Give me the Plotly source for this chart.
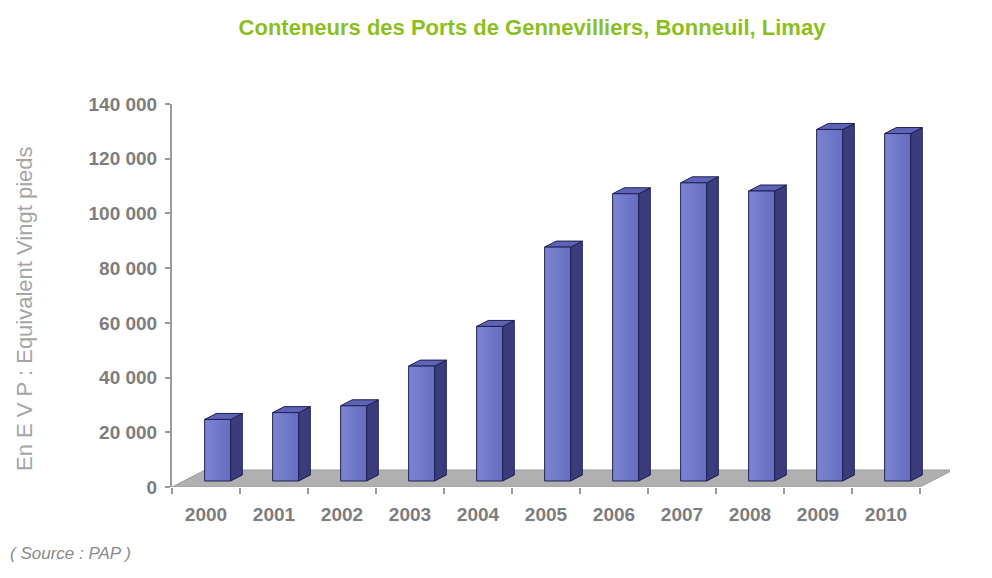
import plotly.graph_objects as go

years = ["2000", "2001", "2002", "2003", "2004", "2005", "2006", "2007", "2008", "2009", "2010"]
values = [22500, 25000, 27500, 42000, 56500, 85500, 105000, 109000, 106000, 128500, 127000]
ytick_vals = [0, 20000, 40000, 60000, 80000, 100000, 120000, 140000]
ytick_text = ["0", "20 000", "40 000", "60 000", "80 000", "100 000", "120 000", "140 000"]

# geometry (in axis units)
PX_X = 68.0            # pixels per category
Y_MAX = 140000
PX_Y = 383.0 / Y_MAX   # pixels per value unit
DEPTH_DX = 33 / PX_X
DEPTH_DY = 17 / PX_Y
BAR_W = 26 / PX_X
F0 = 6 / 17            # front of bars as fraction of floor depth
F1 = 12 / 17           # back of bars

SIDE = "#3b3c7c"
TOP = "#5d64b6"
EDGE = "#1e1f52"
FLOOR = "#b0b0b0"
AXIS = "#9a9a9a"
TXT = "#7d7d7d"

fig = go.Figure()
n = len(years)
# floor
fx = [-0.5, n - 0.5, n - 0.5 + DEPTH_DX, -0.5 + DEPTH_DX, -0.5]
fy = [0, 0, DEPTH_DY, DEPTH_DY, 0]
fig.add_trace(go.Scatter(x=fx, y=fy, fill="toself", fillcolor=FLOOR, mode="lines",
                         line=dict(color="#9c9c9c", width=1), hoverinfo="skip", showlegend=False))

for i, v in enumerate(values):
    ox = F0 * DEPTH_DX
    oy = F0 * DEPTH_DY
    ddx = (F1 - F0) * DEPTH_DX
    ddy = (F1 - F0) * DEPTH_DY
    xl = i - BAR_W / 2 + ox
    xr = i + BAR_W / 2 + ox
    yb = oy
    yt = oy + v
    # side face
    fig.add_trace(go.Scatter(x=[xr, xr + ddx, xr + ddx, xr, xr], y=[yb, yb + ddy, yt + ddy, yt, yb],
                             fill="toself", fillcolor=SIDE, mode="lines",
                             line=dict(color=EDGE, width=1), hoverinfo="skip", showlegend=False))
    # top face
    fig.add_trace(go.Scatter(x=[xl, xr, xr + ddx, xl + ddx, xl], y=[yt, yt, yt + ddy, yt + ddy, yt],
                             fill="toself", fillcolor=TOP, mode="lines",
                             line=dict(color=EDGE, width=1), hoverinfo="skip", showlegend=False))
    # front face
    fig.add_trace(go.Scatter(x=[xl, xr, xr, xl, xl], y=[yb, yb, yt, yt, yb],
                             fill="toself", mode="lines",
                             fillgradient=dict(type="horizontal",
                                               colorscale=[[0, "#7c85d3"], [1, "#656dbf"]]),
                             line=dict(color=EDGE, width=1), hoverinfo="skip", showlegend=False))

L, R, T, B = 172, 42, 104, 91
x_right = -0.5 + (992 - L - R) / PX_X

fig.update_layout(
    width=992, height=578,
    margin=dict(l=L, r=R, t=T, b=B),
    paper_bgcolor="white", plot_bgcolor="white",
    showlegend=False,
    title=dict(text="<b>Conteneurs des Ports de Gennevilliers, Bonneuil, Limay</b>",
               xref="container", yref="container", x=532 / 992, y=1 - 27 / 578,
               xanchor="center", yanchor="middle",
               font=dict(family="Liberation Sans Narrow, Arial Narrow, Liberation Sans", size=22,
                         color="#8cbf1e")),
    xaxis=dict(range=[-0.5, x_right], tickmode="array", tickvals=list(range(n)), ticktext=years,
               showgrid=False, zeroline=False, showline=False, ticks="",
               tickfont=dict(family="Liberation Sans, Arial", size=19, color=TXT, weight="bold"),
               ticklabelstandoff=14,
               minor=dict(tick0=-0.5, dtick=1, ticks="outside", ticklen=6, tickwidth=2,
                          tickcolor=AXIS, showgrid=False),
               fixedrange=True),
    yaxis=dict(range=[0, Y_MAX], tickmode="array", tickvals=ytick_vals, ticktext=ytick_text,
               showgrid=False, zeroline=False, showline=True, linecolor=AXIS, linewidth=2,
               ticks="outside", ticklen=5, tickwidth=2, tickcolor=AXIS,
               tickfont=dict(family="Liberation Sans, Arial", size=19, color=TXT, weight="bold"),
               ticklabelstandoff=4, fixedrange=True),
)

fig.add_annotation(text="En E V P : Equivalent Vingt pieds", xref="paper", yref="paper",
                   x=-(L - 24) / (992 - L - R), y=(487 - 309) / 383, textangle=-90,
                   showarrow=False, xanchor="center", yanchor="middle",
                   font=dict(family="Liberation Sans, Arial", size=22, color="#a5a5a5"))
fig.add_annotation(text="<i>( Source : PAP )</i>", xref="paper", yref="paper",
                   x=-(L - 8) / (992 - L - R), y=-(553 - 487) / 383, showarrow=False,
                   xanchor="left", yanchor="middle",
                   font=dict(family="Liberation Sans, Arial", size=17, color="#8a8a8a"))

fig.write_html("out.html")
